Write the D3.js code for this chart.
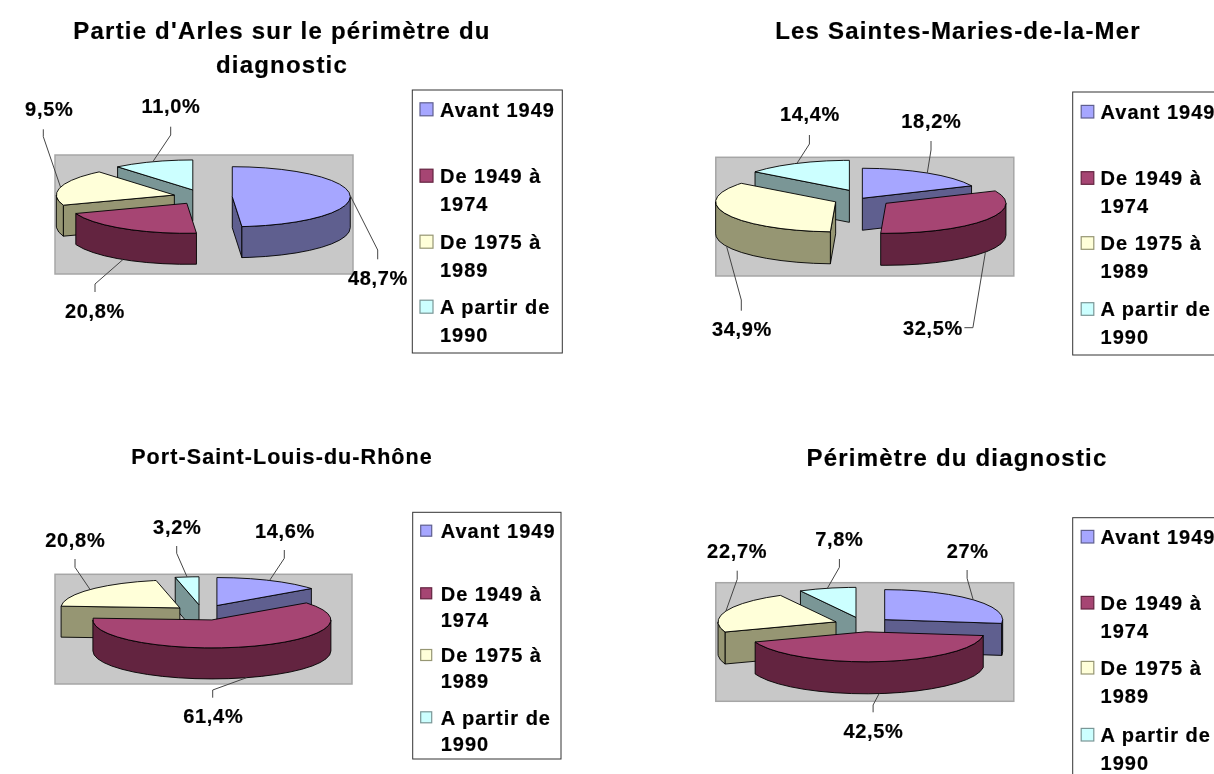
<!DOCTYPE html>
<html>
<head>
<meta charset="utf-8">
<script src="https://cdn.jsdelivr.net/npm/d3@7"></script>
<style>
  html, body { margin: 0; padding: 0; background: #fff; overflow: hidden; }
  svg { filter: blur(0.35px); }
  text { font-family: "Liberation Sans", Arial, sans-serif; font-weight: bold; fill: #000; stroke: #000; stroke-width: 0.2px; }
</style>
</head>
<body>
<div id="chart"></div>
<script>
// categories and values
var categories = ["Avant 1949", "De 1949 à 1974", "De 1975 à 1989", "A partir de 1990"];
var arlesValues = [48.7, 20.8, 19.5, 11.0];
var saintesValues = [18.2, 32.5, 34.9, 14.4];
var portValues = [14.6, 61.4, 20.8, 3.2];
var perimetreValues = [27, 42.5, 22.7, 7.8];
// the first label of the yellow slice is clipped in the source, hence 9,5%
var arlesLabels = ["48,7%", "20,8%", "9,5%", "11,0%"];
var saintesLabels = ["18,2%", "32,5%", "34,9%", "14,4%"];
var portLabels = ["14,6%", "61,4%", "20,8%", "3,2%"];
var perimetreLabels = ["27%", "42,5%", "22,7%", "7,8%"];
var legendLines = [["Avant 1949"], ["De 1949 à", "1974"], ["De 1975 à", "1989"], ["A partir de", "1990"]];

var topColors = ["#a6a6ff", "#a64573", "#ffffd9", "#ccffff"];
var sideColors = ["#5f5f8f", "#632440", "#969673", "#7a9696"];

// layout of the four panels
var panels = [
  { title: ["Partie d'Arles sur le périmètre du", "diagnostic"], titleX: 282, titleY: [30.5, 64.7], titleSize: 24, titleGap: 1.2,
    values: arlesValues, labels: arlesLabels,
    box: [55, 155, 353, 274], cx: 202.8, cy: 197, rx: 118, ry: 30, depth: 31,
    explode: [0.25, 0.25, 0.25, 0.25], lift: [0, 0, 0, 0],
    leaders: [[377.7, 250, 377.7, 259.3], [95, 284, 95, 292], [43.3, 136.7, 43.3, 129.3], [170.7, 135, 170.7, 126.7]],
    labelPos: [[378, 278], [95, 310.7], [49.3, 108.3], [171, 106]],
    legend: { x: 412.3, right: 562.3, top: 90, bottom: 353, keyX: 420, keySize: 13, textX: 440,
      lines: [[19.3], [85.7, 114], [151.7, 179.3], [216.7, 245]] } },
  { title: ["Les Saintes-Maries-de-la-Mer"], titleX: 958, titleY: [30.5], titleSize: 24, titleGap: 1.2,
    values: saintesValues, labels: saintesLabels,
    box: [715.8, 157.3, 1013.8, 276], cx: 860.4, cy: 199, rx: 120, ry: 30, depth: 32,
    explode: [0.03, 0.257, 0.227, 0.21], lift: [0, 0, 0, -3],
    leaders: [[931, 150, 931, 141], [972.9, 327.7, 964.4, 327.7], [741.3, 300, 741.3, 310.7], [809.4, 144, 809.4, 135]],
    labelPos: [[931.4, 120.7], [933, 327.3], [742, 328.3], [810, 114]],
    legend: { x: 1072.7, right: 1240, top: 92, bottom: 355, keyX: 1081.2, keySize: 12.6, textX: 1100.6,
      lines: [[19.7], [86, 114], [151, 179], [217, 245]] } },
  { title: ["Port-Saint-Louis-du-Rhône"], titleX: 282, titleY: [456.5], titleSize: 21.5, titleGap: 1.08,
    values: portValues, labels: portLabels,
    box: [55, 574.3, 352, 684], cx: 202.3, cy: 612.5, rx: 119, ry: 28, depth: 31,
    explode: [0.277, 0.277, 0.25, 0.277], lift: [0, 0, 0, 0],
    leaders: [[284.3, 558.3, 284.3, 550], [212.7, 690, 212.7, 697.7], [75, 567.3, 75, 559], [176.7, 553.3, 176.7, 546]],
    labelPos: [[285, 530.7], [213.3, 715.7], [75.3, 540], [177.3, 526.7]],
    legend: { x: 412.7, right: 561, top: 512.3, bottom: 759, keyX: 420.7, keySize: 11, textX: 440.7,
      lines: [[18.4], [81, 107.7], [142.7, 168.4], [205, 231]] } },
  { title: ["Périmètre du diagnostic"], titleX: 957, titleY: [457.5], titleSize: 24, titleGap: 1.2,
    values: perimetreValues, labels: perimetreLabels,
    box: [715.8, 582.7, 1013.8, 701.3], cx: 863, cy: 624.5, rx: 118, ry: 30, depth: 32,
    explode: [0.245, 0.245, 0.245, 0.245], lift: [0, 0, 0, 0],
    leaders: [[967.1, 578.3, 967.1, 570], [873.1, 705, 873.1, 712.3], [737.2, 579.3, 737.2, 570.7], [839.4, 567.3, 839.4, 559]],
    labelPos: [[967.8, 550.7], [873.5, 730.7], [737.2, 551], [839.4, 538.3]],
    legend: { x: 1072.7, right: 1240, top: 517.7, bottom: 790, keyX: 1081.2, keySize: 12.6, textX: 1100.6,
      lines: [[19], [85, 113], [150, 178], [217, 245]] } }
];

var svg = d3.select("#chart").append("svg")
    .attr("width", 1214)
    .attr("height", 774);

var topColor = d3.scaleOrdinal().domain(categories).range(topColors);
var sideColor = d3.scaleOrdinal().domain(categories).range(sideColors);
var pie = d3.pie().sort(null).value(function(d) { return d.value; });
var line = d3.line();
var step = Math.PI / 22;

// angles between a and b, with a fixed step so the rim stays slightly faceted
function rimAngles(a, b) {
  var out = d3.range(a, b, step);
  out.push(b);
  return out;
}

panels.forEach(function(p) {
  var g = svg.append("g");

  // titles
  p.title.forEach(function(t, i) {
    g.append("text")
        .attr("x", p.titleX).attr("y", p.titleY[i]).attr("dy", "0.36em")
        .attr("text-anchor", "middle")
        .style("font-size", p.titleSize + "px")
        .style("letter-spacing", p.titleGap + "px")
        .text(t);
  });

  // grey plot area
  g.append("rect")
      .attr("x", p.box[0]).attr("y", p.box[1])
      .attr("width", p.box[2] - p.box[0]).attr("height", p.box[3] - p.box[1])
      .attr("fill", "#c8c8c8").attr("stroke", "#a6a6a6").attr("stroke-width", 1.5);

  var x = d3.scaleLinear().domain([-1, 1]).range([p.cx - p.rx, p.cx + p.rx]);
  var y = d3.scaleLinear().domain([-1, 1]).range([p.cy - p.ry, p.cy + p.ry]);

  var slices = pie(p.values.map(function(v, i) { return { name: categories[i], value: v }; }));
  slices.forEach(function(s, i) {
    s.mid = (s.startAngle + s.endAngle) / 2;
    s.e = p.explode[i];
    s.lift = p.lift[i];
    s.apex = [x(s.e * Math.sin(s.mid)), y(-s.e * Math.cos(s.mid)) + s.lift];
    s.rim = function(a) {
      return [x(s.e * Math.sin(s.mid) + Math.sin(a)), y(-s.e * Math.cos(s.mid) - Math.cos(a)) + s.lift];
    };
  });

  function low(pt) { return [pt[0], pt[1] + p.depth]; }
  function drawPoly(pts, fill) {
    g.append("path")
        .attr("d", line(pts) + "Z")
        .attr("fill", fill)
        .attr("stroke", "#000").attr("stroke-width", 0.9).attr("stroke-linejoin", "round");
  }

  // back slices first
  slices.slice().sort(function(a, b) { return Math.cos(b.mid) - Math.cos(a.mid); }).forEach(function(s) {
    var side = sideColor(s.data.name);
    // cut faces, only those turned to the viewer
    if (Math.sin(s.startAngle) < -1e-6) {
      var r0 = s.rim(s.startAngle);
      drawPoly([s.apex, r0, low(r0), low(s.apex)], side);
    }
    if (Math.sin(s.endAngle) > 1e-6) {
      var r1 = s.rim(s.endAngle);
      drawPoly([s.apex, r1, low(r1), low(s.apex)], side);
    }
    // outer wall on the front half of the rim
    var a0 = Math.max(s.startAngle, Math.PI / 2);
    var a1 = Math.min(s.endAngle, 3 * Math.PI / 2);
    if (a1 > a0) {
      var wall = rimAngles(a0, a1).map(s.rim);
      drawPoly(wall.concat(wall.slice().reverse().map(low)), side);
    }
    // top face
    drawPoly([s.apex].concat(rimAngles(s.startAngle, s.endAngle).map(s.rim)), topColor(s.data.name));
  });

  // leader lines and percentages
  slices.forEach(function(s, i) {
    var start = s.rim(s.mid);
    if (Math.cos(s.mid) < 0) start = low(start);
    var l = p.leaders[i];
    g.append("path")
        .attr("d", line([start, [l[0], l[1]], [l[2], l[3]]]))
        .attr("fill", "none").attr("stroke", "#444").attr("stroke-width", 1);
    g.append("text")
        .attr("x", p.labelPos[i][0]).attr("y", p.labelPos[i][1]).attr("dy", "0.36em")
        .attr("text-anchor", "middle")
        .style("font-size", "20px")
        .style("letter-spacing", "0.7px")
        .text(p.labels[i]);
  });

  // legend
  var lg = p.legend;
  g.append("rect")
      .attr("x", lg.x).attr("y", lg.top)
      .attr("width", lg.right - lg.x).attr("height", lg.bottom - lg.top)
      .attr("fill", "#fff").attr("stroke", "#333").attr("stroke-width", 1);
  categories.forEach(function(c, i) {
    g.append("rect")
        .attr("x", lg.keyX).attr("y", lg.top + lg.lines[i][0] - lg.keySize / 2)
        .attr("width", lg.keySize).attr("height", lg.keySize)
        .attr("fill", topColor(c)).attr("stroke", sideColor(c)).attr("stroke-width", 1.2);
    legendLines[i].forEach(function(t, j) {
      g.append("text")
          .attr("x", lg.textX).attr("y", lg.top + lg.lines[i][j]).attr("dy", "0.36em")
          .style("font-size", "20px")
          .style("letter-spacing", "1px")
          .text(t);
    });
  });
});
</script>
</body>
</html>
